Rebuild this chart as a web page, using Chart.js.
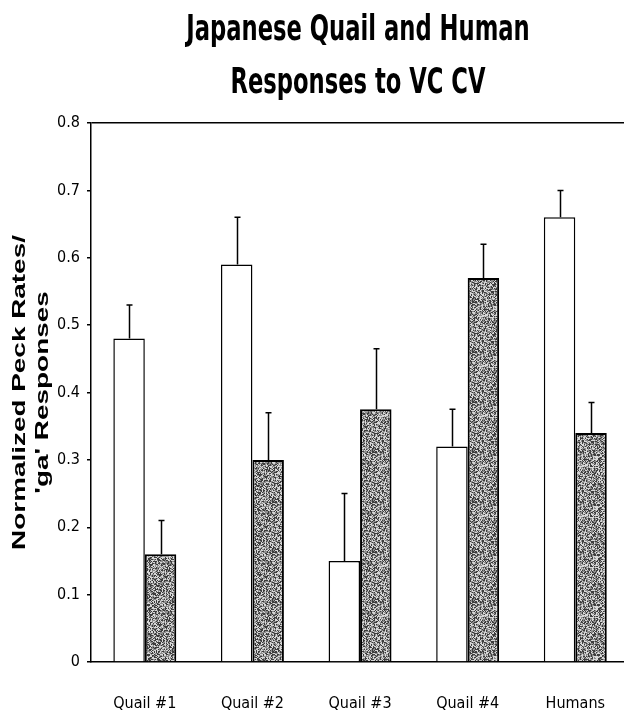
<!DOCTYPE html>
<html>
<head>
<meta charset="utf-8">
<script src="https://cdn.jsdelivr.net/npm/chart.js@4/dist/chart.umd.min.js"></script>
<style>
  html, body { margin: 0; padding: 0; background: #fff; overflow: hidden; }
  #wrap { width: 637px; height: 715px; }
  #grafico { display: block; width: 637px; height: 715px; }
</style>
</head>
<body>
<div id="wrap"><canvas id="grafico" width="637" height="715"></canvas></div>
<script>
// datos
const categorias = ['Quail #1', 'Quail #2', 'Quail #3', 'Quail #4', 'Humans'];
const valores_vc = [0.48, 0.59, 0.15, 0.32, 0.66];
const error_vc = [0.53, 0.66, 0.25, 0.375, 0.70];
const valores_cv = [0.16, 0.30, 0.375, 0.57, 0.34];
const error_cv = [0.21, 0.37, 0.465, 0.62, 0.385];
const ticks_y = [0, 0.1, 0.2, 0.3, 0.4, 0.5, 0.6, 0.7, 0.8];
const titulo = ['Japanese Quail and Human', 'Responses to VC CV'];
const titulo_y = ['Normalized Peck Rates/', "'ga' Responses"];

const narrow = "'Liberation Sans Narrow', 'Arial Narrow', 'DejaVu Sans Condensed', sans-serif";

// textura gris punteada (fija, no depende de los datos)
function hacer_patron() {
    const n = 50;
    const c = document.createElement('canvas');
    c.width = n; c.height = n;
    const g = c.getContext('2d');
    const img = g.createImageData(n, n);
    for (let y = 0; y < n; y++) {
        for (let x = 0; x < n; x++) {
            let h = Math.imul(x + 3, 73856093) ^ Math.imul(y + 11, 19349663);
            h = Math.imul(h ^ (h >>> 15), 0x2c1b3c6d);
            h = Math.imul(h ^ (h >>> 12), 0x297a2d39);
            h = ((h ^ (h >>> 15)) >>> 0) % 100;
            let v;
            if (h < 32) v = 60;
            else if (h < 66) v = 140;
            else v = 215;
            const i = (y * n + x) * 4;
            img.data[i] = v; img.data[i + 1] = v; img.data[i + 2] = v; img.data[i + 3] = 255;
        }
    }
    g.putImageData(img, 0, 0);
    return g.createPattern(c, 'repeat');
}

const barras_error = {
    id: 'barras_error',
    afterDatasetsDraw(chart) {
        const ctx = chart.ctx;
        const y = chart.scales.y;
        const errores = [error_vc, error_cv];
        ctx.save();
        ctx.strokeStyle = '#000';
        ctx.lineWidth = 1.5;
        errores.forEach((err, d) => {
            chart.getDatasetMeta(d).data.forEach((bar, i) => {
                const x = Math.round(bar.x) + 0.5;
                const yTop = y.getPixelForValue(err[i]);
                ctx.beginPath();
                ctx.moveTo(x, bar.y);
                ctx.lineTo(x, yTop);
                ctx.moveTo(x - 3, yTop);
                ctx.lineTo(x + 3, yTop);
                ctx.stroke();
            });
        });
        ctx.restore();
    }
};

// titulos dibujados a mano para poder estirarlos como en el original
const textos = {
    id: 'textos',
    afterDraw(chart) {
        const ctx = chart.ctx;
        const area = chart.chartArea;
        ctx.save();
        ctx.fillStyle = '#000';
        ctx.textAlign = 'center';
        ctx.textBaseline = 'alphabetic';
        ctx.font = "bold 36px " + narrow;
        const base = [40, 93];
        titulo.forEach((t, i) => {
            ctx.save();
            ctx.translate(358, base[i]);
            ctx.scale(0.7, 1);
            ctx.fillText(t, 0, 0);
            ctx.restore();
        });
        ctx.font = "bold 18px 'Liberation Sans', Arial, sans-serif";
        ctx.textBaseline = 'middle';
        const cy = (area.top + area.bottom) / 2;
        const xs = [20, 43];
        titulo_y.forEach((t, i) => {
            ctx.save();
            ctx.translate(xs[i], cy);
            ctx.rotate(-Math.PI / 2);
            ctx.scale(1.55, 1);
            ctx.fillText(t, 0, 0);
            ctx.restore();
        });
        ctx.restore();
    }
};

new Chart(document.getElementById('grafico'), {
    type: 'bar',
    data: {
        labels: categorias,
        datasets: [
            {
                label: 'VC',
                data: valores_vc,
                backgroundColor: '#fff',
                borderColor: '#000',
                borderWidth: 1.5,
                barPercentage: 1,
                categoryPercentage: 0.585
            },
            {
                label: 'CV',
                data: valores_cv,
                backgroundColor: hacer_patron(),
                borderColor: '#000',
                borderWidth: 2,
                barPercentage: 1,
                categoryPercentage: 0.585
            }
        ]
    },
    options: {
        responsive: false,
        animation: false,
        devicePixelRatio: 1,
        layout: { padding: { left: 0, right: 0, top: 123, bottom: 0 } },
        plugins: {
            legend: { display: false },
            tooltip: { enabled: false },
            title: { display: false }
        },
        scales: {
            x: {
                grid: { display: false, drawTicks: false },
                border: { display: true, color: '#000', width: 1.5 },
                ticks: { color: '#000', padding: 32, font: { family: narrow, size: 16 } },
                afterFit: s => { s.height = 53; }
            },
            y: {
                min: 0,
                max: 0.8,
                afterBuildTicks: s => { s.ticks = ticks_y.map(v => ({ value: v })); },
                grid: {
                    drawOnChartArea: true,
                    color: c => (c.tick && c.tick.value === 0.8) ? '#000' : 'rgba(0,0,0,0)',
                    tickColor: '#000',
                    tickLength: 4,
                    lineWidth: 1.5
                },
                border: { display: true, color: '#000', width: 1.5 },
                ticks: {
                    color: '#000',
                    padding: 7,
                    font: { family: narrow, size: 16 },
                    callback: v => v === 0 ? '0' : v.toFixed(1)
                },
                title: { display: false },
                afterFit: s => { s.width = 91; }
            }
        }
    },
    plugins: [barras_error, textos]
});
</script>
</body>
</html>
